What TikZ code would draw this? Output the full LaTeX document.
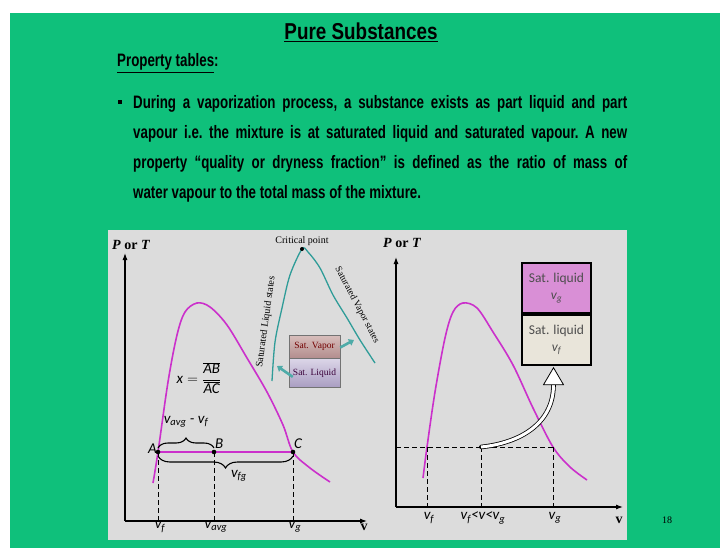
\documentclass[tikz,border=0pt]{standalone}
\usepackage{fontspec}
\usepackage{tikz}
\usetikzlibrary{arrows.meta,positioning,decorations.pathreplacing}
\setmainfont{Liberation Serif}
\newfontfamily\slidefont[FakeStretch=0.74]{Liberation Sans}
\newfontfamily\titlefont[FakeStretch=0.82]{Liberation Sans}
\newfontfamily\plotsans{Carlito}
\definecolor{slidegreen}{HTML}{0FC07B}
\definecolor{panelgrey}{HTML}{DCDCDC}
\definecolor{domepurple}{HTML}{CB30CB}
\definecolor{dometeal}{HTML}{2F9C98}
\definecolor{gcellfill}{HTML}{D98FD6}
\definecolor{fcellfill}{HTML}{E9E5DA}
\definecolor{celltext}{HTML}{4D4D4D}
\definecolor{vaptop}{HTML}{D8BEBC}
\definecolor{vapbot}{HTML}{B38E8E}
\definecolor{liqtop}{HTML}{DCD6E8}
\definecolor{liqbot}{HTML}{A99DC2}
\newcommand{\vsub}[1]{{\plotsans\itshape v\textsubscript{#1}}}

\tikzset{
  titletext/.style={font=\titlefont\bfseries\fontsize{23}{23}\selectfont, inner sep=0pt},
  slidetext/.style={font=\slidefont\bfseries\fontsize{18}{30}\selectfont, inner sep=0pt},
  bulletsq/.style={fill=black, minimum size=4pt, inner sep=0pt},
  axisline/.style={line width=1.1pt, -{Latex[length=7pt,width=5pt]}},
  axislabel/.style={font=\rmfamily\bfseries\fontsize{14}{14}\selectfont, inner sep=1pt},
  domeline/.style={domepurple, line width=1.6pt},
  guide/.style={dashed, line width=1pt, dash pattern=on 5pt off 3pt},
  ptlabel/.style={font=\plotsans\itshape\fontsize{15}{15}\selectfont, inner sep=1pt},
  bracestyle/.style={decorate, line width=1.1pt},
  tealline/.style={dometeal, line width=1.3pt},
  smallserif/.style={font=\rmfamily\fontsize{10}{10}\selectfont, inner sep=1pt},
  critdot/.style={circle, fill=black, minimum size=4pt, inner sep=0pt},
  satcell/.style={draw=black!55, minimum width=51pt, inner sep=0pt,
    font=\rmfamily\fontsize{9.5}{9.5}\selectfont},
  tealarrow/.style={dometeal!85, line width=2.6pt, -{Triangle[length=5pt,width=7pt]}},
  dotnode/.style={circle, fill=black, minimum size=4pt, inner sep=0pt},
  cellbox/.style={draw=black, line width=1.8pt, minimum width=69pt, minimum height=50pt,
    align=center, inner sep=0pt, text=celltext, font=\plotsans\fontsize{13.5}{17}\selectfont},
  hollowshaft/.style={line width=0.8pt, double=white, double distance=3pt},
  hollowhead/.style={line width=0.8pt, fill=white},
  pagenum/.style={font=\rmfamily\fontsize{10}{10}\selectfont}
}

\begin{document}
\begin{tikzpicture}[x=1pt,y=-1pt]
    % slide background
    \fill[white] (0,0) rectangle (720,548);
    \fill[slidegreen] (10,13) rectangle (720,548);
    \fill[panelgrey] (108,230) rectangle (627,540);
    \useasboundingbox (0,0) rectangle (720,548);

    % heading and bullet text
    \node[titletext, anchor=base] (title) at (361,40) {\underline{Pure Substances}};
    \node[slidetext, anchor=base west] (subhead) at (117,67) {\underline{Property tables}:};
    \node[bulletsq] (bul) at (120,102) {};
    \node[slidetext, anchor=north west, text width=494pt, align=justify] (para) at (133,95)
      {\frenchspacing During a vaporization process, a substance exists as part liquid and part\linebreak
       vapour i.e. the mixture is at saturated liquid and saturated vapour. A new\linebreak
       property “quality or dryness fraction” is defined as the ratio of mass of\linebreak
       water vapour to the total mass of the mixture.};

    % left diagram: axes
    \coordinate (lorig) at (125,521);
    \coordinate (lytop) at (125,253);
    \coordinate (lxend) at (367,521);
    \draw[axisline] (lorig) -- (lytop);
    \draw[axisline] (lorig) -- (lxend);
    \node[axislabel, anchor=south west] (lpt) at (111,251) {\textit{P} or \textit{T}};
    \node[axislabel] (lv) at (364,527) {v};

    % left diagram: dome and mixing line
    \draw[domeline] plot[smooth, tension=0.55] coordinates {(153,483) (158,452) (168,382)
      (177,335) (185,312) (197,303) (210,307) (227,325) (247,358) (267,392) (283,425)
      (293,452) (310,468) (330,482)};
    \coordinate (A) at (158,452);
    \coordinate (B) at (214,452);
    \coordinate (C) at (293,452);
    \draw[domeline] (A) -- (C);
    \foreach \pt in {A,B,C} {
      \draw[guide] (\pt) -- (\pt |- lorig);
      \fill (\pt) circle (2.3pt);
    }
    \node[ptlabel, anchor=east] (Alab) at ([yshift=3pt]A) {A};
    \node[ptlabel, anchor=south west] (Blab) at ([yshift=2pt]B) {B};
    \node[ptlabel, anchor=south west] (Clab) at ([yshift=2pt]C) {C};
    \node[ptlabel] (vflab) at (160,527) {\vsub{f}};
    \node[ptlabel] (vavglab) at (216,527) {\vsub{avg}};
    \node[ptlabel] (vglab) at (295,527) {\vsub{g}};

    % braces
    \draw[bracestyle, decoration={brace, amplitude=10pt}] ([yshift=4pt]A) -- ([yshift=4pt]B)
      node[midway, above=19pt, ptlabel] {\vsub{avg} - \vsub{f}};
    \draw[bracestyle, decoration={brace, amplitude=12pt}] ([yshift=-4pt]C) -- ([yshift=-4pt]A)
      node[midway, anchor=north west, xshift=4pt, yshift=-13pt, ptlabel] {\vsub{fg}};

    % quality
    \node[ptlabel] (xdef) at (199,378)
      {$\mbox{x} = \displaystyle\frac{\overline{\mbox{AB}}}{\overline{\mbox{AC}}}$};

    % inset dome
    \draw[tealline] plot[smooth, tension=0.5] coordinates {(272,381) (275,342) (282,308)
      (290,275) (302,249) (308,252) (320,268) (333,295) (347,318) (360,340) (375,363)};
    \node[critdot] (crit) at (302,249) {};
    \node[smallserif, above=0pt of crit] (critlbl) {Critical point};
    \node[smallserif, rotate=82] (liqstates) at (266,322) {Saturated Liquid states};
    \node[smallserif, font=\rmfamily\fontsize{9.5}{9.5}\selectfont, rotate=-62]
      (vapstates) at (357,305) {Saturated Vapor states};
    \node[satcell, minimum height=23pt, top color=vaptop, bottom color=vapbot,
      text=red!45!black] (satvap) at (314.5,346.5) {Sat. Vapor};
    \node[satcell, minimum height=29pt, below=0pt of satvap, top color=liqtop,
      bottom color=liqbot, text=violet!45!black] (satliq) {Sat. Liquid};
    \coordinate (vapside) at (354,340);
    \coordinate (liqside) at (277,366);
    \draw[tealarrow] ([yshift=-1pt]satvap.east) -- (vapside);
    \draw[tealarrow] ([xshift=4pt,yshift=-4pt]satliq.west) -- (liqside);

    % right diagram: axes
    \coordinate (rorig) at (396,507);
    \coordinate (rytop) at (396,257);
    \coordinate (rxend) at (623,507);
    \draw[axisline] (rorig) -- (rytop);
    \draw[axisline] (rorig) -- (rxend);
    \node[axislabel, anchor=south west] (rpt) at (382,249) {\textit{P} or \textit{T}};
    \node[axislabel] (rv) at (619,520) {v};

    % right diagram: dome and state
    \draw[domeline] plot[smooth, tension=0.55] coordinates {(423,478) (427,447) (435,392)
      (445,338) (453,312) (463,303) (477,308) (493,332) (513,365) (533,408) (553,447)
      (570,467) (587,480)};
    \coordinate (rlev) at (396,447);
    \coordinate (rf) at (427,447);
    \coordinate (rg) at (553,447);
    \node[dotnode] (rmid) at (481,447) {};
    \draw[guide] (rlev) -- (rg);
    \foreach \pt in {rf,rmid,rg}
      \draw[guide] (\pt.center) -- (\pt |- rorig);
    \node[ptlabel] (rvflab) at (429,518) {\vsub{f}};
    \node[ptlabel] (rmidlab) at (483,518) {\vsub{f}<{\itshape v}<\vsub{g}};
    \node[ptlabel] (rvglab) at (555,518) {\vsub{g}};

    % right diagram: cells
    \node[cellbox, fill=gcellfill] (gcell) at (556.5,288) {Sat. liquid\\\vsub{g}};
    \node[cellbox, fill=fcellfill, below=0pt of gcell] (fcell) {Sat. liquid\\\vsub{f}};
    \coordinate (headbase) at ([xshift=-3pt,yshift=-19pt]fcell.south);
    \draw[hollowshaft] (rmid.center) .. controls +(39,-4) and +(0,39) .. (headbase);
    \draw[hollowhead] ([xshift=-10pt]headbase) -- ([yshift=17pt]headbase)
      -- ([xshift=10pt]headbase) -- cycle;

    \node[pagenum] (pg) at (667,520) {18};
  \end{tikzpicture}
\end{document}
